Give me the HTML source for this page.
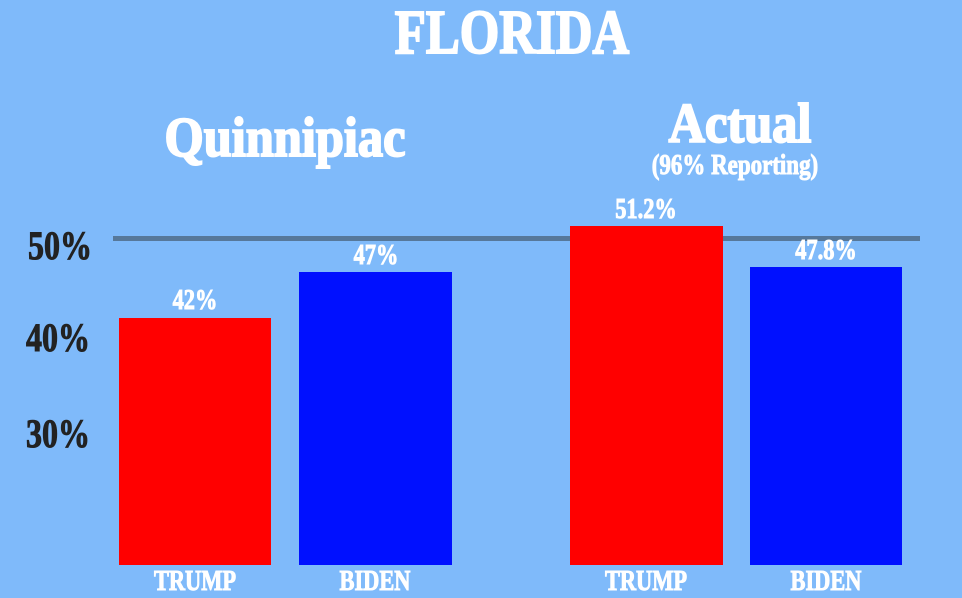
<!DOCTYPE html>
<html><head><style>
body{margin:0;width:962px;height:598px;background:#7fbafa;position:relative;overflow:hidden;font-family:"Liberation Serif",serif;font-weight:bold}
.t{position:absolute;white-space:nowrap;transform-origin:center top;text-align:center;-webkit-text-stroke:1px currentColor}
.w{color:#fff}
.k{color:#222}
.b{position:absolute}
</style></head><body>
<div class="t w" style="left:362px;width:300px;top:-2px;font-size:62px;transform:scaleX(0.82);-webkit-text-stroke:2px #fff">FLORIDA</div>
<div class="t w" style="left:135px;width:300px;top:106px;font-size:56px;transform:scaleX(0.9);-webkit-text-stroke:2px #fff">Quinnipiac</div>
<div class="t w" style="left:590px;width:300px;top:92px;font-size:56px;transform:scaleX(0.9);-webkit-text-stroke:2px #fff">Actual</div>
<div class="t w" style="left:595px;width:280px;top:150px;font-size:28px;transform:scaleX(0.82)">(96% Reporting)</div>
<div class="b" style="left:113px;top:236px;width:807px;height:5px;background:#56789a"></div>
<div class="t k" style="left:10px;width:100px;top:222px;font-size:40px;transform:scaleX(0.8)">50%</div>
<div class="t k" style="left:8px;width:100px;top:314px;font-size:40px;transform:scaleX(0.8)">40%</div>
<div class="t k" style="left:8px;width:100px;top:410px;font-size:40px;transform:scaleX(0.8)">30%</div>
<div class="b" style="left:119px;top:318px;width:152px;height:247px;background:#ff0000"></div>
<div class="b" style="left:299px;top:272px;width:153px;height:293px;background:#0010ff"></div>
<div class="b" style="left:570px;top:226px;width:153px;height:339px;background:#ff0000"></div>
<div class="b" style="left:750px;top:267px;width:152px;height:298px;background:#0010ff"></div>
<div class="t w" style="left:145px;width:100px;top:285px;font-size:28px;transform:scaleX(0.8)">42%</div>
<div class="t w" style="left:326px;width:100px;top:240px;font-size:28px;transform:scaleX(0.8)">47%</div>
<div class="t w" style="left:596px;width:100px;top:194px;font-size:28px;transform:scaleX(0.8)">51.2%</div>
<div class="t w" style="left:776px;width:100px;top:235px;font-size:28px;transform:scaleX(0.8)">47.8%</div>
<div class="t w" style="left:135px;width:120px;top:566px;font-size:28px;transform:scaleX(0.8)">TRUMP</div>
<div class="t w" style="left:315px;width:120px;top:566px;font-size:28px;transform:scaleX(0.8)">BIDEN</div>
<div class="t w" style="left:586px;width:120px;top:566px;font-size:28px;transform:scaleX(0.8)">TRUMP</div>
<div class="t w" style="left:766px;width:120px;top:566px;font-size:28px;transform:scaleX(0.8)">BIDEN</div>
</body></html>
